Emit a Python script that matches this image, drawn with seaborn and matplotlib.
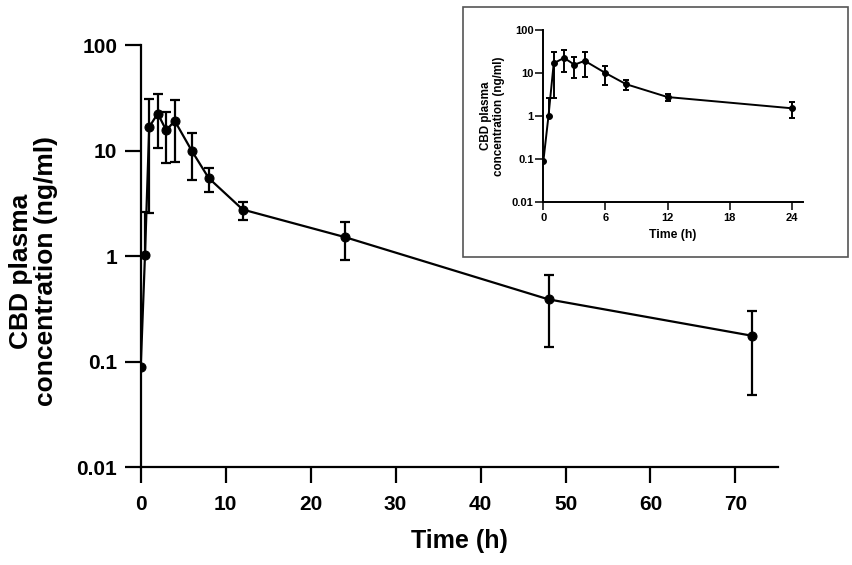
import numpy as np
import pandas as pd
import matplotlib
matplotlib.use("Agg")
import matplotlib.pyplot as plt
from matplotlib.patches import Rectangle
import seaborn as sns

# CBD plasma concentration (ng/ml), mean with error bars
time_h = [0, 0.5, 1, 2, 3, 4, 6, 8, 12, 24, 48, 72]
conc = [0.09, 1.03, 16.8, 22.5, 15.6, 19.2, 10.0, 5.5, 2.77, 1.52, 0.39, 0.176]
err_upper = [0.09, 2.6, 30.8, 34.3, 23.5, 30.1, 14.7, 6.9, 3.3, 2.1, 0.66, 0.30]
err_lower = [0.09, 1.03, 2.57, 10.5, 7.7, 7.9, 5.25, 4.1, 2.2, 0.92, 0.137, 0.048]

y_ticks = [0.01, 0.1, 1, 10, 100]
y_ticklabels = ["0.01", "0.1", "1", "10", "100"]
x_ticks_main = [0, 10, 20, 30, 40, 50, 60, 70]
x_ticks_inset = [0, 6, 12, 18, 24]

df = pd.DataFrame({"time": time_h, "conc": conc,
                   "lo": err_lower, "hi": err_upper})
df_inset = df[df["time"] <= 24]

sns.set_style("ticks")
plt.rcParams["font.family"] = ["Liberation Sans", "DejaVu Sans"]
plt.rcParams["font.weight"] = "bold"

fig = plt.figure(figsize=(8.53, 5.65), dpi=100)


def draw(ax, data, lw, ms, cap, tick_len, tick_w, fs, pad, xticks, xlim):
    yerr = [data["conc"] - data["lo"], data["hi"] - data["conc"]]
    ax.errorbar(data["time"], data["conc"], yerr=yerr, fmt="none",
                ecolor="black", elinewidth=lw, capsize=cap, capthick=lw,
                zorder=2)
    sns.lineplot(data=data, x="time", y="conc", ax=ax, color="black",
                 linewidth=lw, marker="o", markersize=ms,
                 markeredgecolor="black", zorder=3)
    ax.set_yscale("log")
    ax.set_ylim(0.01, 100)
    ax.set_xlim(*xlim)
    ax.set_xticks(xticks)
    ax.set_yticks(y_ticks)
    ax.set_yticklabels(y_ticklabels)
    ax.yaxis.set_minor_locator(matplotlib.ticker.NullLocator())
    sns.despine(ax=ax)
    for s in ["left", "bottom"]:
        ax.spines[s].set_linewidth(lw)
        ax.spines[s].set_color("black")
    ax.tick_params(axis="both", direction="out", length=tick_len,
                   width=tick_w, labelsize=fs, color="black",
                   labelcolor="black", left=True, bottom=True)
    ax.tick_params(axis="y", pad=pad)
    ax.tick_params(axis="x", pad=pad * 1.5)
    for lab in ax.get_xticklabels() + ax.get_yticklabels():
        lab.set_fontweight("bold")
    ax.patch.set_alpha(0)


# main chart
ax = fig.add_axes([0.165, 0.173, 0.747, 0.747])
draw(ax, df, 1.6, 6.5, 3.5, 11.5, 1.6, 15, 5.5, x_ticks_main, (0, 75))
ax.set_xlabel("Time (h)", fontsize=18, fontweight="bold", labelpad=11,
              color="black")
ax.set_ylabel("CBD plasma\nconcentration (ng/ml)", fontsize=19,
              fontweight="bold", linespacing=1.05, color="black")
ax.yaxis.set_label_coords(-0.130, 0.465)

# inset frame
fig.patches.append(Rectangle((463 / 853, 1 - 257 / 565), (848 - 463) / 853,
                             (257 - 7) / 565, transform=fig.transFigure,
                             fill=True, facecolor="white",
                             edgecolor="#555555", linewidth=1.2, zorder=5))

# inset: first 24 h
ax_in = fig.add_axes([0.637, 0.642, 0.304, 0.305], zorder=10)
draw(ax_in, df_inset, 1.4, 4.2, 2, 5.5, 1.1, 8, 1.5, x_ticks_inset, (0, 25.06))
ax_in.set_xlabel("Time (h)", fontsize=8.8, fontweight="bold", labelpad=4,
                 color="black")
ax_in.set_ylabel("CBD plasma\nconcentration (ng/ml)", fontsize=8.4,
                 fontweight="bold", labelpad=5, linespacing=1.05,
                 color="black")

fig.savefig("out.png", dpi=100)
